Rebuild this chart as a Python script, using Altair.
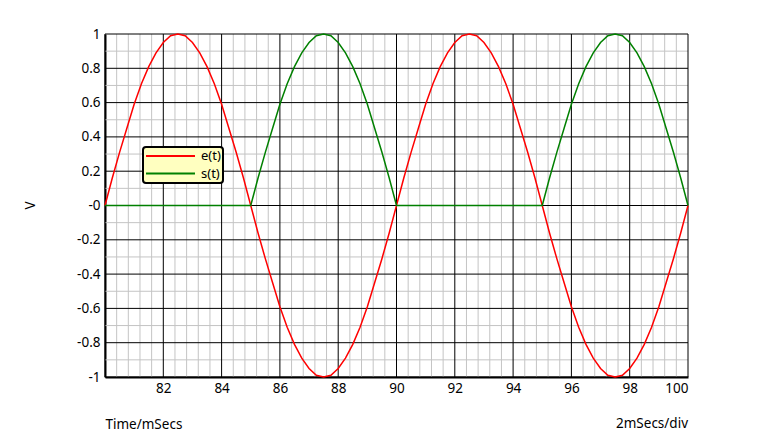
import altair as alt
import pandas as pd

# sample times (ms)
t_ms = [80 + 0.25 * i for i in range(81)]

# e(t)
e_vals = [0, 0.16, 0.31, 0.45, 0.59, 0.71, 0.81, 0.89, 0.95, 0.99, 1.0,
          0.99, 0.95, 0.89, 0.81, 0.71, 0.59, 0.45, 0.31, 0.16, 0,
          -0.16, -0.31, -0.45, -0.59, -0.71, -0.81, -0.89, -0.95, -0.99, -1.0,
          -0.99, -0.95, -0.89, -0.81, -0.71, -0.59, -0.45, -0.31, -0.16, 0,
          0.16, 0.31, 0.45, 0.59, 0.71, 0.81, 0.89, 0.95, 0.99, 1.0,
          0.99, 0.95, 0.89, 0.81, 0.71, 0.59, 0.45, 0.31, 0.16, 0,
          -0.16, -0.31, -0.45, -0.59, -0.71, -0.81, -0.89, -0.95, -0.99, -1.0,
          -0.99, -0.95, -0.89, -0.81, -0.71, -0.59, -0.45, -0.31, -0.16, 0]

# s(t)
s_vals = [0, 0, 0, 0, 0, 0, 0, 0, 0, 0, 0,
          0, 0, 0, 0, 0, 0, 0, 0, 0, 0,
          0.16, 0.31, 0.45, 0.59, 0.71, 0.81, 0.89, 0.95, 0.99, 1.0,
          0.99, 0.95, 0.89, 0.81, 0.71, 0.59, 0.45, 0.31, 0.16, 0,
          0, 0, 0, 0, 0, 0, 0, 0, 0, 0,
          0, 0, 0, 0, 0, 0, 0, 0, 0, 0,
          0.16, 0.31, 0.45, 0.59, 0.71, 0.81, 0.89, 0.95, 0.99, 1.0,
          0.99, 0.95, 0.89, 0.81, 0.71, 0.59, 0.45, 0.31, 0.16, 0]

series_names = ["e(t)", "s(t)"]
series_colors = ["#ff0000", "#008000"]

x_major = [80, 82, 84, 86, 88, 90, 92, 94, 96, 98, 100]
y_major = [-1.0, -0.8, -0.6, -0.4, -0.2, 0.0, 0.2, 0.4, 0.6, 0.8, 1.0]
x_minor = [80 + 0.4 * i for i in range(51) if i % 5 != 0]
y_minor = [-0.9, -0.7, -0.5, -0.3, -0.1, 0.1, 0.3, 0.5, 0.7, 0.9]

FONT = "Noto Sans"
FS = 13.5
W, H = 583, 343

df = pd.DataFrame({
    "t": t_ms * 2,
    "v": e_vals + s_vals,
    "series": [series_names[0]] * len(t_ms) + [series_names[1]] * len(t_ms),
})

xscale = alt.Scale(domain=[80, 100], nice=False, zero=False)
yscale = alt.Scale(domain=[-1, 1], nice=False, zero=False)

xaxis = alt.Axis(values=x_major, grid=False, ticks=False,
                 labelExpr="datum.value == 80 ? '' : datum.label",
                 labelPadding=4, domainColor="black", domainWidth=2,
                 title="Time/mSecs", titleX=0, titleY=47,
                 titleAlign="left", titleBaseline="middle",
                 titleAnchor="start")
yaxis = alt.Axis(values=y_major, grid=False, ticks=False,
                 labelExpr="datum.value == 0 ? '-0' : toString(datum.value)",
                 labelPadding=5, domainColor="black", domainWidth=2,
                 title="V", titleX=-75, titleY=171, titleAngle=-90,
                 titleAlign="center", titleBaseline="middle")

minor_x = alt.Chart(pd.DataFrame({"x": x_minor})).mark_rule(
    color="#c4c4c4", strokeWidth=1
).encode(x=alt.X("x:Q", scale=xscale, axis=xaxis))
minor_y = alt.Chart(pd.DataFrame({"y": y_minor})).mark_rule(
    color="#c4c4c4", strokeWidth=1
).encode(y=alt.Y("y:Q", scale=yscale, axis=yaxis))
major_x = alt.Chart(pd.DataFrame({"x": x_major})).mark_rule(
    color="black", strokeWidth=1
).encode(x=alt.X("x:Q", scale=xscale, axis=xaxis))
major_y = alt.Chart(pd.DataFrame({"y": y_major})).mark_rule(
    color="black", strokeWidth=1
).encode(y=alt.Y("y:Q", scale=yscale, axis=yaxis))

lines = alt.Chart(df).mark_line(strokeWidth=1.5, interpolate="linear").encode(
    x=alt.X("t:Q", scale=xscale, axis=xaxis),
    y=alt.Y("v:Q", scale=yscale, axis=yaxis),
    color=alt.Color("series:N",
                    scale=alt.Scale(domain=series_names, range=series_colors),
                    legend=alt.Legend(orient="none", legendX=38, legendY=113,
                                      title=None, fillColor="#ffffc0",
                                      strokeColor="black", cornerRadius=3,
                                      padding=2, symbolType="stroke",
                                      symbolSize=2400, symbolStrokeWidth=2,
                                      clipHeight=14,
                                      labelFont=FONT, labelFontSize=13,
                                      labelColor="black", labelOffset=5,
                                      rowPadding=3.6)),
    detail="series:N",
)

note = alt.Chart(pd.DataFrame({"a": [0]})).mark_text(
    align="right", baseline="middle", font=FONT, fontSize=FS, color="black"
).encode(x=alt.value(W), y=alt.value(H + 47), text=alt.value("2mSecs/div"))

chart = alt.layer(minor_x, minor_y, major_x, major_y, lines, note).properties(
    width=W, height=H,
    autosize=alt.AutoSizeParams(type="none"),
    padding={"left": 97, "top": 26, "right": 60, "bottom": 60},
).configure_view(stroke=None).configure_axis(
    labelFont=FONT, labelFontSize=FS, labelColor="black",
    titleFont=FONT, titleFontSize=FS, titleFontWeight="normal", titleColor="black",
).configure_legend(strokeWidth=2)

chart.save("out.html", embed_options={"renderer": "svg", "actions": False})
